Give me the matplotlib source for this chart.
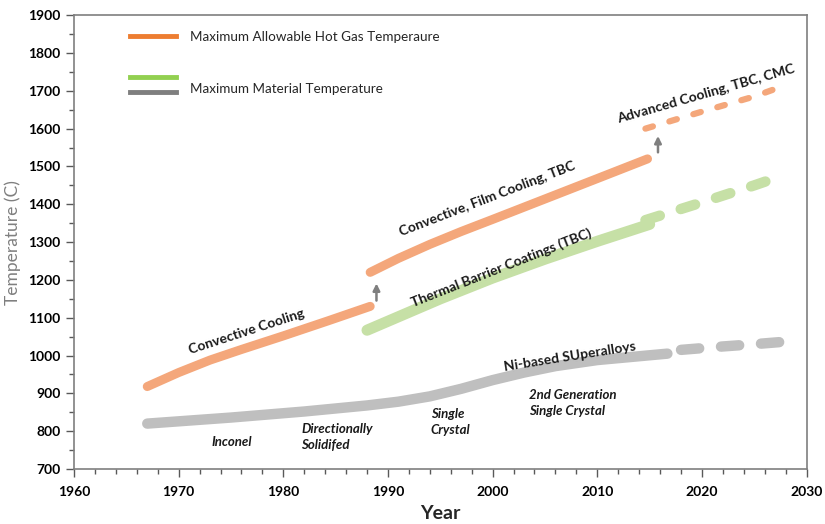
import matplotlib
matplotlib.use("Agg")
import matplotlib.pyplot as plt

plt.rcParams['font.family'] = ['Lato', 'DejaVu Sans']

# hot gas temperature (orange)
gas1_x = [1967, 1970, 1973, 1976, 1980, 1984.3, 1988.3]
gas1_y = [918, 955, 988, 1016, 1052, 1092, 1130]
gas2_x = [1988.3, 1991, 1994, 1997, 2000, 2005, 2010, 2014.8]
gas2_y = [1220, 1257, 1294, 1328, 1360, 1414, 1468, 1520]
gas3_x = [2014.6, 2020, 2025, 2027.7]
gas3_y = [1600, 1645, 1685, 1712]

# material temperature (green)
mat1_x = [1988, 1995, 2000, 2005, 2010, 2015]
mat1_y = [1067, 1150, 1205, 1255, 1302, 1347]
mat2_x = [2014.6, 2020, 2025, 2027.3]
mat2_y = [1358, 1405, 1450, 1472]

# Ni-based superalloys (gray)
ni1_x = [1967, 1975, 1982, 1988, 1991, 1994, 1997, 2000, 2003, 2006, 2010, 2016.7]
ni1_y = [820, 836, 852, 868, 878, 892, 912, 935, 955, 972, 988, 1005]
ni2_x = [2018, 2022, 2025, 2028.1]
ni2_y = [1015, 1024, 1030, 1037]

orange = '#F4A77B'
green = '#C6E0A6'
gray = '#BFBFBF'

fig = plt.figure(figsize=(8.25, 5.24), dpi=100)
ax = fig.add_axes([0.0897, 0.105, 0.888, 0.866])

ax.plot(ni1_x, ni1_y, color=gray, lw=7.5, solid_capstyle='round', solid_joinstyle='round')
ax.plot(ni2_x, ni2_y, color=gray, lw=7.5, dash_capstyle='round', dashes=(1.75, 2.1))
ax.plot(mat1_x, mat1_y, color=green, lw=8, solid_capstyle='round', solid_joinstyle='round')
ax.plot(mat2_x, mat2_y, color=green, lw=7.5, dash_capstyle='round', dashes=(1.45, 2.1))
ax.plot(gas1_x, gas1_y, color=orange, lw=6.5, solid_capstyle='round', solid_joinstyle='round')
ax.plot(gas2_x, gas2_y, color=orange, lw=6.5, solid_capstyle='round', solid_joinstyle='round')
ax.plot(gas3_x, gas3_y, color=orange, lw=4.5, dash_capstyle='round', dashes=(1.25, 2.75))

arr = dict(arrowstyle='-|>,head_width=0.2,head_length=0.4', color='#7F7F7F', lw=1.8)
ax.annotate('', xy=(1988.9, 1198), xytext=(1988.9, 1138), arrowprops=arr)
ax.annotate('', xy=(2015.8, 1588), xytext=(2015.8, 1530), arrowprops=arr)

tk = dict(fontsize=10, fontweight='bold', color='#1a1a1a', ha='center', va='center')
ax.text(1976.5, 1064, 'Convective Cooling', rotation=18, **tk)
ax.text(1999.5, 1414, 'Convective, Film Cooling, TBC', rotation=21, **tk)
ax.text(2020.4, 1691, 'Advanced Cooling, TBC, CMC', rotation=16, **tk)
ax.text(2000.8, 1233, 'Thermal Barrier Coatings (TBC)', rotation=21.5, **tk)
ax.text(2007.4, 998, 'Ni-based SUperalloys', rotation=9, **tk)

it = dict(fontsize=9.5, fontweight='bold', style='italic', color='#1a1a1a', ha='left', va='center')
ax.text(1973.1, 771, 'Inconel', **it)
ax.text(1981.7, 785, 'Directionally\nSolidifed', linespacing=1.35, **it)
ax.text(1994.1, 824, 'Single\nCrystal', linespacing=1.35, **it)
ax.text(2003.5, 874, '2nd Generation\nSingle Crystal', linespacing=1.35, **it)

# legend
ax.plot([0.077, 0.139], [0.954, 0.954], color='#ED7D31', lw=3.5, transform=ax.transAxes)
ax.plot([0.077, 0.139], [0.863, 0.863], color='#92D050', lw=3.5, transform=ax.transAxes)
ax.plot([0.077, 0.139], [0.830, 0.830], color='#7F7F7F', lw=3.5, transform=ax.transAxes)
ax.text(0.159, 0.952, 'Maximum Allowable Hot Gas Temperaure', transform=ax.transAxes,
        fontsize=9.7, color='#262626', va='center')
ax.text(0.159, 0.837, 'Maximum Material Temperature', transform=ax.transAxes,
        fontsize=9.7, color='#262626', va='center')

ax.set_xlim(1960, 2030)
ax.set_ylim(700, 1900)
ax.set_xticks(range(1960, 2031, 10))
ax.set_xticks(range(1960, 2031, 2), minor=True)
ax.set_yticks(range(700, 1901, 100))
ax.set_yticks(range(700, 1901, 50), minor=True)
ax.tick_params(which='both', direction='out', color='#595959', width=1)
ax.tick_params(which='major', length=6, labelsize=10)
ax.tick_params(which='minor', length=3.5)
for lab in ax.get_xticklabels() + ax.get_yticklabels():
    lab.set_fontweight('bold')
ax.tick_params(axis='x', pad=6)
for s in ax.spines.values():
    s.set_color('#7F7F7F')
    s.set_linewidth(1.2)

ax.set_xlabel('Year', fontsize=14, fontweight='bold', color='#262626', labelpad=5)
ax.set_ylabel('Temperature (C)', fontsize=12.5, color='#7F7F7F', labelpad=5)

fig.savefig('out.png', dpi=100)
